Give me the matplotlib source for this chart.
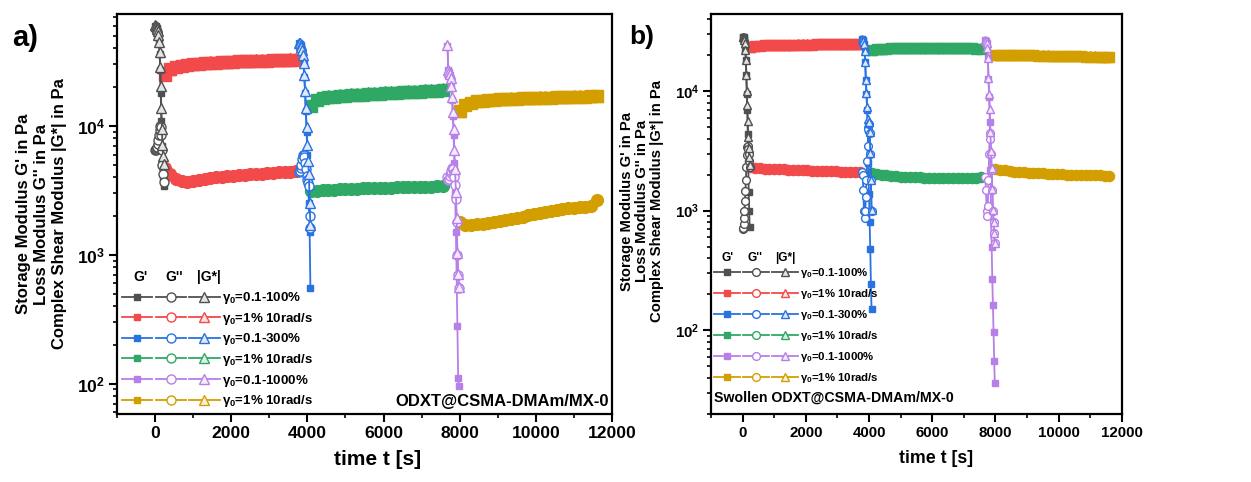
import numpy as np
import matplotlib
matplotlib.use('Agg')
import matplotlib.pyplot as plt
from matplotlib.lines import Line2D
from matplotlib.legend_handler import HandlerTuple
from matplotlib.ticker import MultipleLocator, LogLocator, NullFormatter
import matplotlib.colors as mcolors

plt.rcParams['font.family'] = ['Liberation Sans', 'DejaVu Sans']
plt.rcParams['font.weight'] = 'bold'
plt.rcParams['mathtext.fontset'] = 'custom'
plt.rcParams['mathtext.rm'] = 'Liberation Sans:bold'
plt.rcParams['mathtext.bf'] = 'Liberation Sans:bold'
plt.rcParams['mathtext.it'] = 'Liberation Sans:bold:italic'
plt.rcParams['mathtext.default'] = 'regular'

# ---------------- data ----------------
# amplitude-sweep time stamps [s]
amp1_t = [0, 15, 30, 45, 60, 75, 90, 105, 120, 135, 150, 165, 180, 195, 210, 225]
amp2_t = [3780, 3800, 3820, 3840, 3860, 3880, 3900, 3920, 3940, 3960, 3980, 4000, 4020, 4040, 4060, 4080]
amp3_t = [7680, 7700, 7720, 7740, 7760, 7780, 7800, 7820, 7840, 7860, 7880, 7900, 7920, 7940, 7960, 7980]
# time-sweep time stamps [s]
ts1_t = [250, 400, 550, 700, 850, 1000, 1150, 1300, 1450, 1600, 1750, 1900, 2050, 2200,
         2350, 2500, 2650, 2800, 2950, 3100, 3250, 3400, 3550, 3700]
ts2_t = [4100, 4250, 4400, 4550, 4700, 4850, 5000, 5150, 5300, 5450, 5600, 5750, 5900, 6050,
         6200, 6350, 6500, 6650, 6800, 6950, 7100, 7250, 7400, 7550]
ts3_t = [8000, 8150, 8300, 8450, 8600, 8750, 8900, 9050, 9200, 9350, 9500, 9650, 9800, 9950,
         10100, 10250, 10400, 10550, 10700, 10850, 11000, 11150, 11300, 11450, 11600]

# ---- panel a) ODXT@CSMA-DMAm/MX-0 ----
a_amp1_G1 = [60000, 59500, 59000, 58000, 56500, 54000, 50000, 44000, 36000, 27000, 18000, 11000, 7000, 5000, 4000, 3400]
a_amp1_G2 = [6500, 6500, 6600, 6700, 6900, 7300, 7800, 8500, 9300, 10000, 9800, 8500, 6500, 5000, 4200, 3700]
a_ts1_G1 = [25000, 27500, 28700, 29300, 29800, 30100, 30400, 30650, 30850, 31050, 31200, 31350,
            31500, 31650, 31800, 31900, 32000, 32100, 32200, 32300, 32400, 32500, 32600, 32700]
a_ts1_G2 = [4700, 4200, 3900, 3750, 3700, 3720, 3780, 3850, 3920, 3980, 4030, 4070,
            4110, 4150, 4180, 4210, 4240, 4270, 4300, 4330, 4360, 4390, 4420, 4450]
a_amp2_G1 = [44000, 43500, 42500, 41000, 38500, 35000, 30000, 24000, 18000, 13000, 9000, 6000, 4000, 2500, 1500, 550]
a_amp2_G2 = [4400, 4500, 4700, 5000, 5500, 6000, 6000, 5700, 5200, 4600, 4100, 3800, 3600, 3400, 2000, 1600]
a_ts2_G1 = [14300, 15800, 16400, 16700, 16900, 17050, 17200, 17300, 17400, 17500, 17600, 17700,
            17800, 17900, 18000, 18100, 18200, 18300, 18400, 18500, 18600, 18700, 18800, 18900]
a_ts2_G2 = [3100, 3130, 3160, 3180, 3200, 3220, 3240, 3250, 3260, 3270, 3280, 3290,
            3300, 3310, 3320, 3330, 3340, 3350, 3355, 3360, 3370, 3380, 3390, 3400]
a_amp3_G1 = [42000, 27000, 26000, 25000, 23000, 20000, 16000, 12000, 8500, 5200, 3000, 1500, 700, 280, 111, 95]
a_amp3_G2 = [4000, 3800, 3900, 4100, 4300, 4500, 4700, 4600, 4300, 4000, 3500, 2700, 1800, 1000, 700, 550]
a_ts3_G1 = [13000, 14600, 15200, 15500, 15700, 15850, 15950, 16050, 16150, 16250, 16300, 16350, 16400,
            16450, 16500, 16550, 16600, 16650, 16700, 16750, 16800, 16850, 16900, 16950, 17000]
a_ts3_G2 = [1800, 1700, 1700, 1720, 1740, 1770, 1800, 1830, 1860, 1900, 1940, 1980, 2020,
            2060, 2100, 2140, 2180, 2220, 2260, 2290, 2320, 2340, 2360, 2400, 2650]

# ---- panel b) Swollen ODXT@CSMA-DMAm/MX-0 ----
b_amp1_G1 = [28500, 28300, 28000, 27500, 26500, 25000, 22000, 18000, 13500, 9500, 6900, 4400, 2500, 1430, 1000, 730]
b_amp1_G2 = [700, 720, 780, 870, 1000, 1200, 1450, 1800, 2300, 2900, 3400, 3500, 3300, 3000, 2600, 2300]
b_ts1_G1 = [23300, 23700, 23900, 24000, 24100, 24150, 24200, 24250, 24300, 24350, 24400, 24400,
            24450, 24450, 24500, 24500, 24550, 24550, 24600, 24600, 24650, 24650, 24700, 24700]
b_ts1_G2 = [2300, 2280, 2260, 2250, 2240, 2230, 2220, 2210, 2200, 2195, 2190, 2180,
            2170, 2165, 2160, 2150, 2140, 2135, 2130, 2120, 2110, 2105, 2100, 2090]
b_amp2_G1 = [27000, 26700, 26000, 24500, 21500, 17500, 12300, 9500, 6900, 4700, 2500, 1390, 800, 480, 245, 152]
b_amp2_G2 = [2100, 2000, 1500, 1000, 870, 1000, 1300, 1800, 2600, 3500, 4800, 5300, 4500, 3000, 1800, 1000]
b_ts2_G1 = [21800, 22300, 22500, 22600, 22650, 22700, 22700, 22750, 22750, 22750, 22800, 22800,
            22800, 22800, 22750, 22750, 22750, 22700, 22700, 22700, 22650, 22650, 22600, 22600]
b_ts2_G2 = [2050, 2020, 2000, 1980, 1960, 1945, 1930, 1920, 1910, 1900, 1895, 1890,
            1885, 1880, 1880, 1880, 1880, 1880, 1885, 1885, 1890, 1890, 1890, 1895]
b_amp3_G1 = [26500, 26000, 25000, 23000, 19000, 12700, 8900, 5500, 2180, 1000, 500, 270, 162, 97, 56, 36]
b_amp3_G2 = [1900, 1500, 1000, 900, 1100, 1800, 3000, 4500, 4000, 3000, 2200, 1500, 1000, 800, 650, 540]
b_ts3_G1 = [19900, 20000, 20000, 19950, 19900, 19900, 19850, 19800, 19800, 19750, 19700, 19700, 19650,
            19600, 19600, 19550, 19500, 19500, 19450, 19400, 19400, 19350, 19300, 19300, 19250]
b_ts3_G2 = [2250, 2200, 2170, 2140, 2120, 2100, 2090, 2080, 2070, 2060, 2050, 2040, 2030,
            2020, 2010, 2005, 2000, 1995, 1990, 1985, 1980, 1975, 1970, 1965, 1960]

step_labels = [r'γ$_0$=0.1-100%', r'γ$_0$=1% 10rad/s', r'γ$_0$=0.1-300%',
               r'γ$_0$=1% 10rad/s', r'γ$_0$=0.1-1000%', r'γ$_0$=1% 10rad/s']
step_colors = ['#505050', '#f24a4a', '#2a72e0', '#2fa866', '#b77fe8', '#d39f00']
step_kind = ['amp', 'ts', 'amp', 'ts', 'amp', 'ts']
step_times = [amp1_t, ts1_t, amp2_t, ts2_t, amp3_t, ts3_t]

a_G1 = [a_amp1_G1, a_ts1_G1, a_amp2_G1, a_ts2_G1, a_amp3_G1, a_ts3_G1]
a_G2 = [a_amp1_G2, a_ts1_G2, a_amp2_G2, a_ts2_G2, a_amp3_G2, a_ts3_G2]
b_G1 = [b_amp1_G1, b_ts1_G1, b_amp2_G1, b_ts2_G1, b_amp3_G1, b_ts3_G1]
b_G2 = [b_amp1_G2, b_ts1_G2, b_amp2_G2, b_ts2_G2, b_amp3_G2, b_ts3_G2]


def light(c, f=0.85):
    r, g, b = mcolors.to_rgb(c)
    return (r + (1 - r) * f, g + (1 - g) * f, b + (1 - b) * f)


fig = plt.figure(figsize=(12.51, 4.82), dpi=100)
ax_a = fig.add_axes([0.0935, 0.141, 0.3957, 0.830])
ax_b = fig.add_axes([0.5683, 0.141, 0.3285, 0.830])


def draw(ax, G1s, G2s, s):
    for t, g1, g2, c, kind in zip(step_times, G1s, G2s, step_colors, step_kind):
        t = np.asarray(t, float)
        g1 = np.asarray(g1, float)
        g2 = np.asarray(g2, float)
        gs = np.hypot(g1, g2)
        if kind == 'amp':
            ax.plot(t, g1, '-s', color=c, ms=5 * s, mfc=c, mec=c, lw=1.3, zorder=3)
            ax.plot(t, g2, '-o', color=c, ms=6.5 * s, mfc='white', mec=c, mew=1.0, lw=1.3, zorder=3)
            ax.plot(t, gs, '-^', color=c, ms=6.5 * s, mfc=light(c), mec=c, mew=1.0, lw=1.3, zorder=3)
        else:
            ax.plot(t, g1, '-s', color=c, ms=8 * s, mfc=c, mec=c, lw=3, zorder=2)
            ax.plot(t, g2, '-o', color=c, ms=8.5 * s, mfc=c, mec=c, lw=3, zorder=2)
            ax.plot(t, gs, '-^', color=c, ms=8.5 * s, mfc=c, mec=c, lw=3, zorder=2)


def style(ax, ylim, s):
    ax.set_yscale('log')
    ax.set_xlim(-1000, 12000)
    ax.set_ylim(*ylim)
    ax.xaxis.set_major_locator(MultipleLocator(2000))
    ax.xaxis.set_minor_locator(MultipleLocator(1000))
    ax.yaxis.set_major_locator(LogLocator(base=10))
    ax.yaxis.set_minor_locator(LogLocator(base=10, subs=np.arange(2, 10)))
    ax.yaxis.set_minor_formatter(NullFormatter())
    for sp in ax.spines.values():
        sp.set_linewidth(1.6)
    ax.tick_params(which='major', direction='out', length=5.5, width=1.5,
                   labelsize=12.6 * s, pad=3, top=False, right=False)
    ax.tick_params(which='minor', direction='out', length=3, width=1.2, top=False, right=False)


def legend(ax, s, anchor, spacing):
    handles = []
    for c in step_colors:
        h1 = Line2D([], [], color=c, marker='s', ms=5 * s, mfc=c, mec=c, lw=1.3)
        h2 = Line2D([], [], color=c, marker='o', ms=6.5 * s, mfc='white', mec=c, mew=1.0, lw=1.3)
        h3 = Line2D([], [], color=c, marker='^', ms=6.5 * s, mfc=light(c), mec=c, mew=1.0, lw=1.3)
        handles.append((h1, h2, h3))
    leg = ax.legend(handles, step_labels, handler_map={tuple: HandlerTuple(ndivide=None, pad=0.25)},
                    loc='lower left', bbox_to_anchor=anchor, borderaxespad=0, borderpad=0,
                    frameon=False, numpoints=1, handlelength=7.4, handletextpad=0.2,
                    labelspacing=spacing, prop={'size': 9.5 * s, 'weight': 'bold'})
    return leg


ylab = "Storage Modulus G' in Pa\nLoss Modulus G'' in Pa\nComplex Shear Modulus |G*| in Pa"

# panel a
draw(ax_a, a_G1, a_G2, 1.0)
style(ax_a, (58, 74000), 1.0)
ax_a.set_ylabel(ylab, fontsize=12, fontweight='bold', linespacing=1.25)
ax_a.yaxis.set_label_coords(-0.101, 0.5)
ax_a.set_xlabel('time t [s]', fontsize=15, fontweight='bold')
ax_a.xaxis.set_label_coords(0.527, -0.09)
legend(ax_a, 1.0, (0.01, 0.012), 0.35)
for xf, txt in zip([0.048, 0.115, 0.186], ["G'", "G''", "|G*|"]):
    ax_a.text(xf, 0.3425, txt, transform=ax_a.transAxes, ha='center', va='center',
              fontsize=10, fontweight='bold')
ax_a.text(0.994, 0.031, 'ODXT@CSMA-DMAm/MX-0', transform=ax_a.transAxes, ha='right',
          va='center', fontsize=12, fontweight='bold')
fig.text(25 / 1251, 1 - 38 / 482, 'a)', fontsize=21, fontweight='bold', ha='center', va='center')

# panel b
sb = 0.86
draw(ax_b, b_G1, b_G2, sb)
style(ax_b, (20, 44000), sb)
ax_b.set_ylabel(ylab, fontsize=10.7, fontweight='bold', linespacing=1.08)
ax_b.yaxis.set_label_coords(-0.114, 0.532)
ax_b.set_xlabel('time t [s]', fontsize=12.8, fontweight='bold')
ax_b.xaxis.set_label_coords(0.547, -0.09)
legend(ax_b, sb, (0.007, 0.072), 0.62)
for xf, txt in zip([0.041, 0.107, 0.18], ["G'", "G''", "|G*|"]):
    ax_b.text(xf, 0.39, txt, transform=ax_b.transAxes, ha='center', va='center',
              fontsize=8.6, fontweight='bold')
ax_b.text(0.007, 0.04, 'Swollen ODXT@CSMA-DMAm/MX-0', transform=ax_b.transAxes, ha='left',
          va='center', fontsize=10.2, fontweight='bold')
fig.text(642 / 1251, 1 - 37 / 482, 'b)', fontsize=19, fontweight='bold', ha='center', va='center')

fig.savefig('out.png', dpi=100)
